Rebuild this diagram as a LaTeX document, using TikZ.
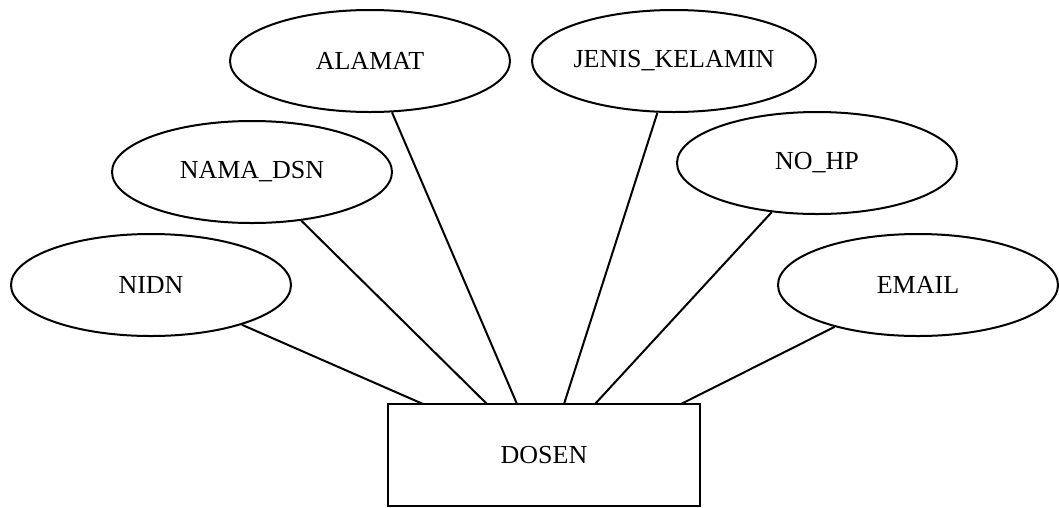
\documentclass[tikz,border=0pt]{standalone}
\usepackage{fontspec}
\setmainfont{Liberation Serif}
\usetikzlibrary{shapes.geometric}
\begin{document}
\begin{tikzpicture}[x=1pt,y=-1pt,
  attr/.style={draw, line width=2pt, ellipse, minimum width=280pt, minimum height=102pt, inner sep=0pt, font=\fontsize{26}{30}\selectfont},
  entity/.style={draw, line width=2pt, rectangle, minimum width=312pt, minimum height=102pt, inner sep=0pt, font=\fontsize{26}{30}\selectfont},
  link/.style={line width=2pt}]
\useasboundingbox (0,0) rectangle (1059,507);
\node[attr] (alamat) at (370,61) {ALAMAT};
\node[attr] (jenis) at (674,61) {JENIS\_KELAMIN};
\node[attr] (nama) at (252,172) {NAMA\_DSN};
\node[attr] (nohp) at (817,163) {NO\_HP};
\node[attr] (nidn) at (151,285) {NIDN};
\node[attr] (email) at (918,285) {EMAIL};
\node[entity] (dosen) at (544,455) {DOSEN};
\coordinate (t1) at (423,404);
\coordinate (t2) at (487,404);
\coordinate (t3) at (517,404);
\coordinate (t4) at (564,404);
\coordinate (t5) at (595,404);
\coordinate (t6) at (681,404);
\draw[link] (nidn) -- (t1);
\draw[link] (nama) -- (t2);
\draw[link] (alamat) -- (t3);
\draw[link] (jenis) -- (t4);
\draw[link] (nohp) -- (t5);
\draw[link] (email) -- (t6);
\end{tikzpicture}
\end{document}
